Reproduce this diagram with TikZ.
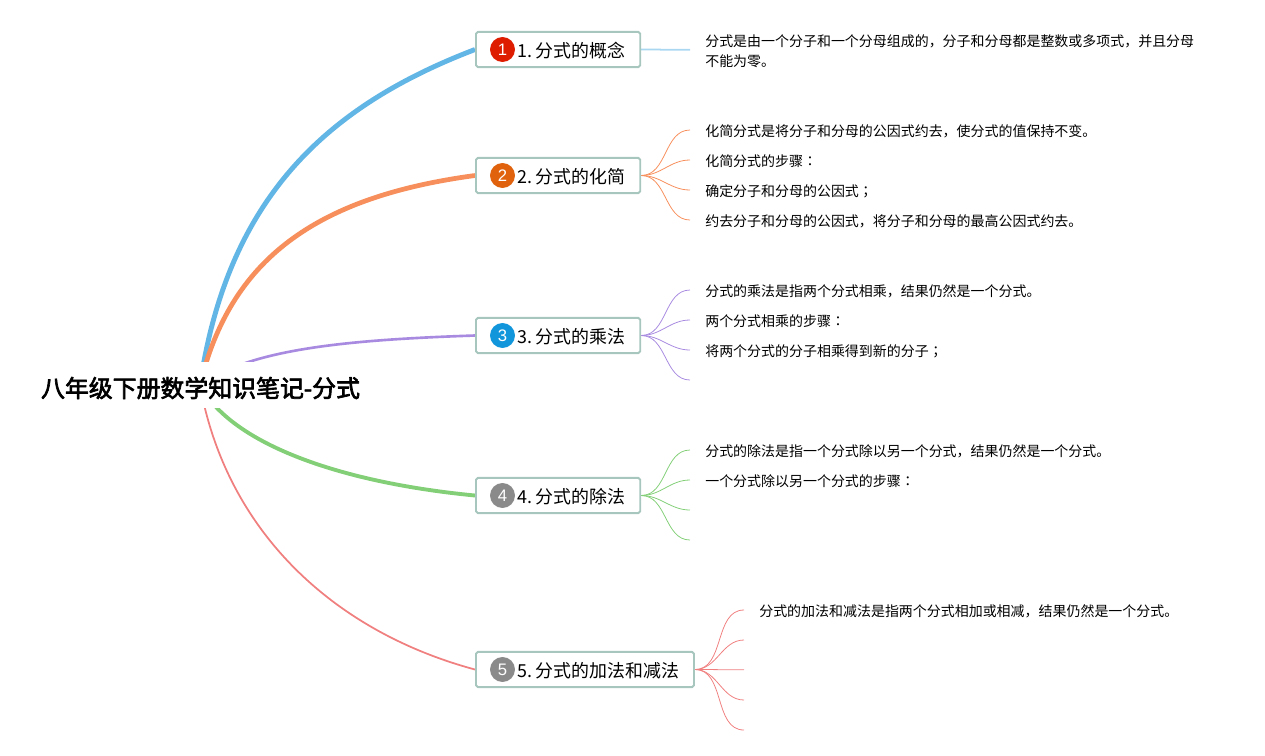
\documentclass[tikz,border=0pt]{standalone}
\usepackage{fontspec}
\setmainfont{Liberation Serif}
\newfontfamily\cjk{Noto Sans CJK SC}
\newfontfamily\cjkp{Noto Sans CJK JP}
\newfontfamily\cjkroot[FakeBold=2.8]{Noto Sans CJK SC}
\newfontfamily\badgefont{Liberation Sans}
\usetikzlibrary{backgrounds}
\definecolor{bluebr}{RGB}{98,182,230}
\definecolor{orangebr}{RGB}{247,143,92}
\definecolor{purplebr}{RGB}{168,139,224}
\definecolor{greenbr}{RGB}{130,207,119}
\definecolor{redbr}{RGB}{240,128,128}
\definecolor{topicline}{RGB}{167,199,190}
\definecolor{badgered}{RGB}{222,28,0}
\definecolor{badgeorange}{RGB}{224,98,13}
\definecolor{badgeblue}{RGB}{18,150,219}
\definecolor{badgegray}{RGB}{138,138,138}
\tikzset{
  rootnode/.style={fill=white,inner xsep=0pt,inner ysep=0pt,minimum width=193pt,minimum height=26pt,text height=15pt,text depth=1.2pt,font=\cjkroot\fontsize{13.6}{17}\selectfont},
  topic/.style={draw=topicline,fill=white,line width=1.1pt,rounded corners=1pt,anchor=west,inner xsep=8.5pt,inner ysep=0pt,minimum height=20pt,text height=10.9pt,text depth=1.5pt,font=\cjk\fontsize{10.2}{12}\selectfont,execute at begin node=\hspace*{15.3pt}},
  badge/.style={circle,inner sep=0pt,minimum size=14.2pt,text=white,font=\badgefont\fontsize{9.5}{10}\selectfont},
  leaf/.style={anchor=west,inner xsep=8.5pt,inner ysep=0pt,align=left,text height=8.4pt,text depth=1.2pt,font=\cjk\fontsize{7.95}{11.4}\selectfont},
  twig/.style={line width=0.45pt},
}
\begin{document}
\begin{tikzpicture}[x=0.02cm,y=-0.02cm,line cap=round,line join=round]
\useasboundingbox (0,0) rectangle (1265,755);
\node[rootnode] (root) at (200.5,385) {八年级下册数学知识笔记-分式};
\coordinate (hub) at (200,385);
% topics
\node[topic] (t1) at (475,49.5) {1.\kern1.7pt 分式的概念};
\node[topic] (t2) at (475,175.5) {2.\kern1.7pt 分式的化简};
\node[topic] (t3) at (475,335.5) {3.\kern1.7pt 分式的乘法};
\node[topic] (t4) at (475,495.5) {4.\kern1.7pt 分式的除法};
\node[topic] (t5) at (475,669.5) {5.\kern1.7pt 分式的加法和减法};
\node[badge,fill=badgered] (b1) at (502.5,49.5) {1};
\node[badge,fill=badgeorange] (b2) at (502.5,175.5) {2};
\node[badge,fill=badgeblue] (b3) at (502.5,335.5) {3};
\node[badge,fill=badgegray] (b4) at (502.5,495.5) {4};
\node[badge,fill=badgegray] (b5) at (502.5,669.5) {5};
% leaves
\node[leaf,text height=20.3pt] (l11) at (690,49.8) {分式是由一个分子和一个分母组成的，分子和分母都是整数或多项式，并且分母\\不能为零。};
\node[leaf] (l21) at (690,130) {化简分式是将分子和分母的公因式约去，使分式的值保持不变。};
\node[leaf] (l22) at (690,160) {化简分式的步骤{\cjkp ：}};
\node[leaf] (l23) at (690,190) {确定分子和分母的公因式{\cjkp ；}};
\node[leaf] (l24) at (690,220) {约去分子和分母的公因式，将分子和分母的最高公因式约去。};
\node[leaf] (l31) at (690,290) {分式的乘法是指两个分式相乘，结果仍然是一个分式。};
\node[leaf] (l32) at (690,320) {两个分式相乘的步骤{\cjkp ：}};
\node[leaf] (l33) at (690,350) {将两个分式的分子相乘得到新的分子{\cjkp ；}};
\coordinate (l34) at (690,380);
\node[leaf] (l41) at (690,450) {分式的除法是指一个分式除以另一个分式，结果仍然是一个分式。};
\node[leaf] (l42) at (690,480) {一个分式除以另一个分式的步骤{\cjkp ：}};
\coordinate (l43) at (690,510);
\coordinate (l44) at (690,540);
\node[leaf] (l51) at (744,610) {分式的加法和减法是指两个分式相加或相减，结果仍然是一个分式。};
\coordinate (l52) at (744,640);
\coordinate (l53) at (744,669.8);
\coordinate (l54) at (744,700);
\coordinate (l55) at (744,730);
\begin{scope}[on background layer]
\draw[bluebr,line width=2.8pt] (hub) .. controls (228,195) and (330,105) .. (t1.west);
\draw[orangebr,line width=2.7pt] (hub) .. controls (230,260) and (315,197) .. (t2.west);
\draw[purplebr,line width=1.5pt] (hub) .. controls (250,350) and (340,340) .. (t3.west);
\draw[greenbr,line width=2.2pt] (hub) .. controls (230,442) and (335,482) .. (t4.west);
\draw[redbr,line width=1pt] (hub) .. controls (226,530) and (332,631) .. (t5.west);
\draw[bluebr!55,line width=1pt] (t1.east) -- (l11.west);
\draw[orangebr,twig] (t2.east) to[out=0,in=180] (l21.west);
\draw[orangebr,twig] (t2.east) to[out=0,in=180] (l22.west);
\draw[orangebr,twig] (t2.east) to[out=0,in=180] (l23.west);
\draw[orangebr,twig] (t2.east) to[out=0,in=180] (l24.west);
\draw[purplebr,twig] (t3.east) to[out=0,in=180] (l31.west);
\draw[purplebr,twig] (t3.east) to[out=0,in=180] (l32.west);
\draw[purplebr,twig] (t3.east) to[out=0,in=180] (l33.west);
\draw[purplebr,twig] (t3.east) to[out=0,in=180] (l34);
\draw[greenbr,twig] (t4.east) to[out=0,in=180] (l41.west);
\draw[greenbr,twig] (t4.east) to[out=0,in=180] (l42.west);
\draw[greenbr,twig] (t4.east) to[out=0,in=180] (l43);
\draw[greenbr,twig] (t4.east) to[out=0,in=180] (l44);
\draw[redbr,twig] (t5.east) to[out=0,in=180] (l51.west);
\draw[redbr,twig] (t5.east) to[out=0,in=180] (l52);
\draw[redbr,twig] (t5.east) to[out=0,in=180] (l53);
\draw[redbr,twig] (t5.east) to[out=0,in=180] (l54);
\draw[redbr,twig] (t5.east) to[out=0,in=180] (l55);
\end{scope}
\end{tikzpicture}
\end{document}
